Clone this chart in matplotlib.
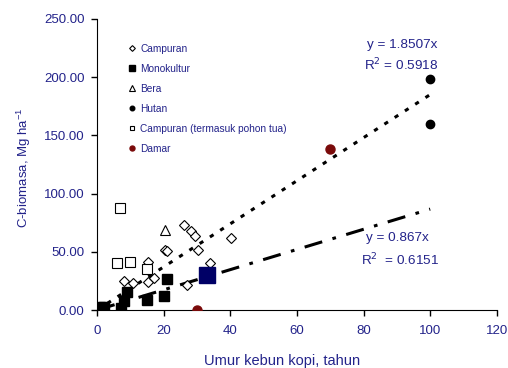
import matplotlib.pyplot as plt

plt.rcParams["font.family"] = ["Liberation Sans", "DejaVu Sans"]

NAVY = "#23238a"

# Campuran (diamonds)
camp_x = [8.2, 10.9, 15.2, 15.2, 17.1, 20.4, 21.1, 26.1, 28.2, 29.4, 30.3, 33.9, 40.2, 26.9]
camp_y = [25.0, 23.5, 41.5, 24.0, 27.2, 51.5, 50.7, 73.0, 68.0, 63.6, 51.2, 40.3, 61.6, 21.5]

# Monokultur (black squares)
mono_x = [0.6, 1.0, 1.6, 2.0, 7.1, 8.0, 9.0, 15.0, 20.1, 21.0]
mono_y = [1.0, 2.5, 1.5, 3.0, 2.0, 8.0, 15.7, 9.0, 12.0, 27.0]

# highlighted point
navy_x = [33.1]
navy_y = [30.0]

# Bera (triangle)
bera_x = [20.3]
bera_y = [68.7]

# Hutan (black circles)
hutan_x = [100, 100]
hutan_y = [198.5, 160.0]

# Campuran (termasuk pohon tua) (open squares)
tua_x = [6.9, 5.9, 9.8, 15.1]
tua_y = [87.3, 40.0, 41.5, 35.0]

# Damar (dark red circles)
damar_x = [70, 30]
damar_y = [138.5, 0.0]

# regression lines through origin
fit_x = [0, 100]
slope1 = 1.8507
slope2 = 0.867

fig = plt.figure(figsize=(5.08, 3.68), dpi=100)
ax = fig.add_axes([0.191, 0.1576, 0.787, 0.7908])

ax.plot(fit_x, [slope1 * v for v in fit_x], color="black", lw=2.2,
        linestyle=(0, (1.4, 2.6)), zorder=1)
ax.plot(fit_x, [slope2 * v for v in fit_x], color="black", lw=2.2,
        linestyle=(0, (6, 3.5, 1.2, 3.5)), zorder=1)

ax.plot(camp_x, camp_y, "D", ms=5.3, mfc="white", mec="black", mew=0.8,
        ls="none", label="Campuran", zorder=3)
ax.plot(mono_x, mono_y, "s", ms=7, mfc="black", mec="black",
        ls="none", label="Monokultur", zorder=3)
ax.plot(bera_x, bera_y, "^", ms=7.5, mfc="white", mec="black", mew=0.8,
        ls="none", label="Bera", zorder=3)
ax.plot(hutan_x, hutan_y, "o", ms=6, mfc="black", mec="black",
        ls="none", label="Hutan", zorder=3)
ax.plot(tua_x, tua_y, "s", ms=6.5, mfc="white", mec="black", mew=0.8,
        ls="none", label="Campuran (termasuk pohon tua)", zorder=3)
ax.plot(damar_x, damar_y, "o", ms=6.5, mfc="#7a0a0a", mec="#7a0a0a",
        ls="none", label="Damar", zorder=3)
ax.plot(navy_x, navy_y, "s", ms=11.5, mfc="#000066", mec="#000066",
        ls="none", zorder=4)

ax.set_xlim(0, 120)
ax.set_ylim(0, 250)
ax.set_xticks(range(0, 121, 20))
ax.set_yticks(range(0, 251, 50))
ax.set_yticklabels(["%.2f" % v for v in range(0, 251, 50)])
ax.tick_params(axis="both", direction="out", length=4, width=1,
               labelsize=9.5, labelcolor=NAVY, pad=5)
ax.tick_params(axis="x", pad=7)
for s in ["top", "right"]:
    ax.spines[s].set_visible(False)

ax.set_xlabel("Umur kebun kopi, tahun", fontsize=10.5, color=NAVY)
ax.xaxis.set_label_coords(0.4625, -0.152)
ax.set_ylabel("C-biomasa, Mg ha$^{\\mathregular{-1}}$", fontsize=9.5, color=NAVY)
ax.yaxis.set_label_coords(-0.16, 0.49)

leg = ax.legend(loc="upper left", bbox_to_anchor=(0.07, 0.928), frameon=False,
                fontsize=7.3, markerscale=0.55, handlelength=0.6,
                handletextpad=0.5, labelspacing=0.98, borderaxespad=0)
for t in leg.get_texts():
    t.set_color(NAVY)

ax.text(81, 227.7, "y = 1.8507x", fontsize=9.7, color=NAVY, va="center")
ax.text(80, 210.5, "R$^2$ = 0.5918", fontsize=9.7, color=NAVY, va="center")
ax.text(80.6, 61.6, "y = 0.867x", fontsize=9.7, color=NAVY, va="center")
ax.text(79.2, 43, "R$^{2}$  = 0.6151", fontsize=9.7, color=NAVY, va="center")

fig.savefig("out.png", dpi=100)
